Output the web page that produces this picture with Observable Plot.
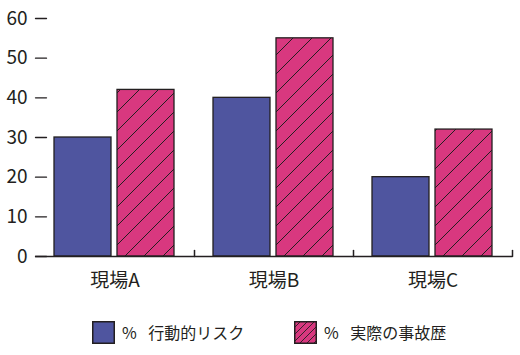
<!DOCTYPE html>
<html><head><meta charset="utf-8">
<script src="https://cdn.jsdelivr.net/npm/d3@7"></script>
<script src="https://cdn.jsdelivr.net/npm/@observablehq/plot@0.6"></script>
<style>
body{margin:0;background:#fff;font-family:"Noto Sans CJK JP","Noto Sans",sans-serif;}
#wrap{position:relative;width:520px;height:355px;}
#legend{position:absolute;left:0;top:320px;width:520px;height:24px;}
.item{position:absolute;top:0;display:flex;align-items:center;font-size:16px;color:#231f20;word-spacing:8px;}
.item svg{margin-right:7px;}
</style></head><body>
<svg width="0" height="0" style="position:absolute">
  <defs>
    <pattern id="hatch" patternUnits="userSpaceOnUse" width="19" height="19">
      <rect width="19" height="19" fill="#D8387F"></rect>
      <path d="M-2,2 L2,-2 M0,19 L19,0 M17,21 L21,17" stroke="#231f20" stroke-width="1"></path>
    </pattern>
    <pattern id="hatchSmall" patternUnits="userSpaceOnUse" width="7" height="7">
      <rect width="7" height="7" fill="#D8387F"></rect>
      <path d="M-1,1 L1,-1 M0,7 L7,0 M6,8 L8,6" stroke="#231f20" stroke-width="0.9"></path>
    </pattern>
  </defs>
</svg>
<div id="wrap"><div id="chart"></div><div id="legend"></div></div>
<script>
const categories = ["現場A", "現場B", "現場C"];
const seriesNames = ["% 行動的リスク", "% 実際の事故歴"];
const behavioralRisk = [30, 40, 20];
const accidentHistory = [42, 55, 32];
const yTicks = [0, 10, 20, 30, 40, 50, 60];
const seriesFills = ["#4F559F", "url(#hatch)"];
const legendFills = ["#4F559F", "url(#hatchSmall)"];

const data = categories.flatMap((c, i) => [
  {site: c, series: seriesNames[0], value: behavioralRisk[i]},
  {site: c, series: seriesNames[1], value: accidentHistory[i]}
]);

const ink = "#231f20";
const tickShape = {draw(context, l) { context.moveTo(0, 0); context.lineTo(0, -l); }};

const plot = Plot.plot({
  width: 520, height: 300,
  marginLeft: 34, marginRight: 7, marginTop: 18, marginBottom: 44,
  style: {fontFamily: '"Noto Sans CJK JP","Noto Sans",sans-serif', color: ink, background: "#fff"},
  fx: {domain: categories, padding: 0, label: null},
  x: {domain: seriesNames, paddingInner: 0.094, paddingOuter: 0.297, axis: null},
  y: {domain: [0, 60], label: null},
  color: {domain: seriesNames, range: seriesFills},
  marks: [
    Plot.barY(data, {fx: "site", x: "series", y: "value", fill: "series", stroke: ink, strokeWidth: 1.3}),
    Plot.ruleY([0], {stroke: ink, strokeWidth: 1.5}),
    Plot.axisY({ticks: yTicks, tickSize: 0, tickPadding: 8, line: true, stroke: ink, strokeWidth: 1.5, fontSize: 19, fill: ink}),
    // inward y ticks, drawn once in the first facet
    Plot.vector(yTicks, {fx: () => categories[0], y: d => d, frameAnchor: "left", length: 11, rotate: 90, anchor: "start", shape: tickShape, stroke: ink, strokeWidth: 1.3}),
    Plot.axisFx({anchor: "bottom", tickSize: 0, tickPadding: 17, fontSize: 19, fill: ink}),
    // category separator ticks at each facet's right edge
    Plot.vector([0], {frameAnchor: "bottom-right", length: 6, rotate: 0, anchor: "start", shape: tickShape, stroke: ink, strokeWidth: 1.5})
  ]
});
document.getElementById("chart").appendChild(plot);

const legend = document.getElementById("legend");
const lefts = [92, 294];
seriesNames.forEach((name, i) => {
  const item = document.createElement("div");
  item.className = "item";
  item.style.left = lefts[i] + "px";
  item.innerHTML = `<svg width="23" height="23"><rect x="0.75" y="0.75" width="21.5" height="21.5" fill="${legendFills[i]}" stroke="${ink}" stroke-width="1.5"></rect></svg><span>${name}</span>`;
  legend.appendChild(item);
});
</script>
</body></html>
